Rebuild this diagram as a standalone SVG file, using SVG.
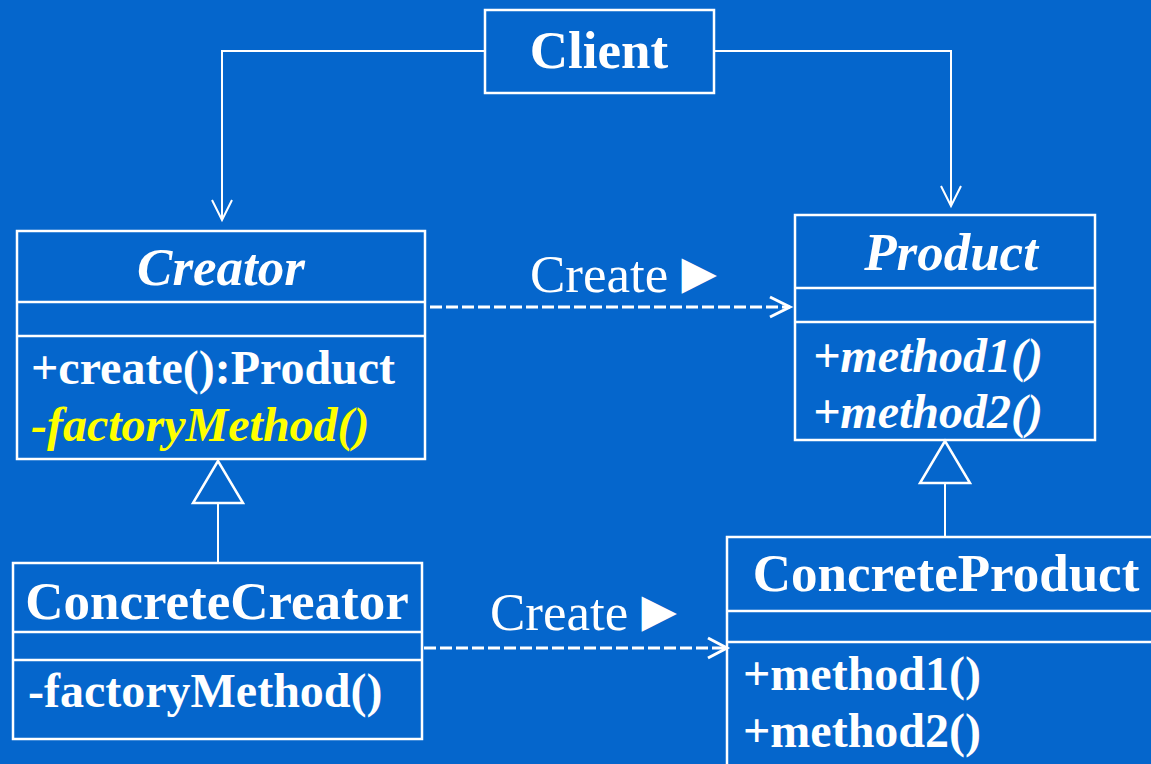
<svg xmlns="http://www.w3.org/2000/svg" width="1151" height="764" viewBox="0 0 1151 764">
<style>
.box{fill:none;stroke:#fff;stroke-width:2.5}
.div{stroke:#fff;stroke-width:2.5}
.t{font-family:"Liberation Serif","Times New Roman",serif;fill:#fff}
.title{font-size:53px;font-weight:bold}
.m{font-size:48px;font-weight:bold}
.it{font-style:italic}
.lab{font-size:53px}
.tri{font-family:"DejaVu Sans",sans-serif;font-size:46px}
.conn{fill:none;stroke:#fff;stroke-width:2}
.dash{fill:none;stroke:#fff;stroke-width:3;stroke-dasharray:12 4}
.gen{fill:#0566CC;stroke:#fff;stroke-width:2.5}
</style>
<defs>
<marker id="open" markerUnits="userSpaceOnUse" markerWidth="30" markerHeight="30" refX="22" refY="12" orient="auto">
<path d="M2,2 L22,12 L2,22" fill="none" stroke="#fff" stroke-width="2"/>
</marker>
</defs>
<rect width="1151" height="764" fill="#0566CC"/>

<g id="connectors">
<path class="conn" d="M484,51 H222 V220" marker-end="url(#open)"/>
<path class="conn" d="M714,51 H951 V206" marker-end="url(#open)"/>
<path class="dash" d="M430,307 H790"/>
<path d="M770,297 L790,307 L770,317" fill="none" stroke="#fff" stroke-width="3"/>
<path class="dash" d="M424,648 H726"/>
<path d="M708,638 L727,648 L708,658" fill="none" stroke="#fff" stroke-width="3"/>
<line class="conn" x1="218" y1="503" x2="218" y2="563" stroke-width="2.5"/>
<polygon class="gen" points="218,461 193,503 243,503"/>
<line class="conn" x1="945" y1="483" x2="945" y2="537" stroke-width="2.5"/>
<polygon class="gen" points="945,441 920,483 970,483"/>
<text class="t lab" x="530" y="292">Create <tspan class="tri" dy="-4">▶</tspan></text>
<text class="t lab" x="490" y="630">Create <tspan class="tri" dy="-4">▶</tspan></text>
</g>

<g id="client">
<rect class="box" x="485" y="10" width="229" height="83"/>
<text class="t title" x="599" y="68" text-anchor="middle">Client</text>
</g>

<g id="creator">
<rect class="box" x="17" y="231" width="408" height="228"/>
<line class="div" x1="17" y1="302" x2="425" y2="302"/>
<line class="div" x1="17" y1="336" x2="425" y2="336"/>
<text class="t title it" x="221" y="285" text-anchor="middle">Creator</text>
<text class="t m" x="31" y="384">+create():Product</text>
<text class="t m it" x="31" y="441" style="fill:#FFFF00">-factoryMethod()</text>
</g>

<g id="product">
<rect class="box" x="795" y="215" width="300" height="225"/>
<line class="div" x1="795" y1="288" x2="1095" y2="288"/>
<line class="div" x1="795" y1="322" x2="1095" y2="322"/>
<text class="t title it" x="951" y="270" text-anchor="middle">Product</text>
<text class="t m it" x="813" y="372">+method1()</text>
<text class="t m it" x="813" y="428">+method2()</text>
</g>

<g id="concreteCreator">
<rect class="box" x="13" y="563" width="409" height="176"/>
<line class="div" x1="13" y1="632" x2="422" y2="632"/>
<line class="div" x1="13" y1="660" x2="422" y2="660"/>
<text class="t title" x="217" y="619" text-anchor="middle">ConcreteCreator</text>
<text class="t m" x="28" y="707">-factoryMethod()</text>
</g>

<g id="concreteProduct">
<rect class="box" x="727" y="537" width="440" height="250"/>
<line class="div" x1="727" y1="611" x2="1151" y2="611"/>
<line class="div" x1="727" y1="642" x2="1151" y2="642"/>
<text class="t title" x="946" y="591" text-anchor="middle">ConcreteProduct</text>
<text class="t m" x="743" y="690">+method1()</text>
<text class="t m" x="743" y="747">+method2()</text>
</g>
</svg>
